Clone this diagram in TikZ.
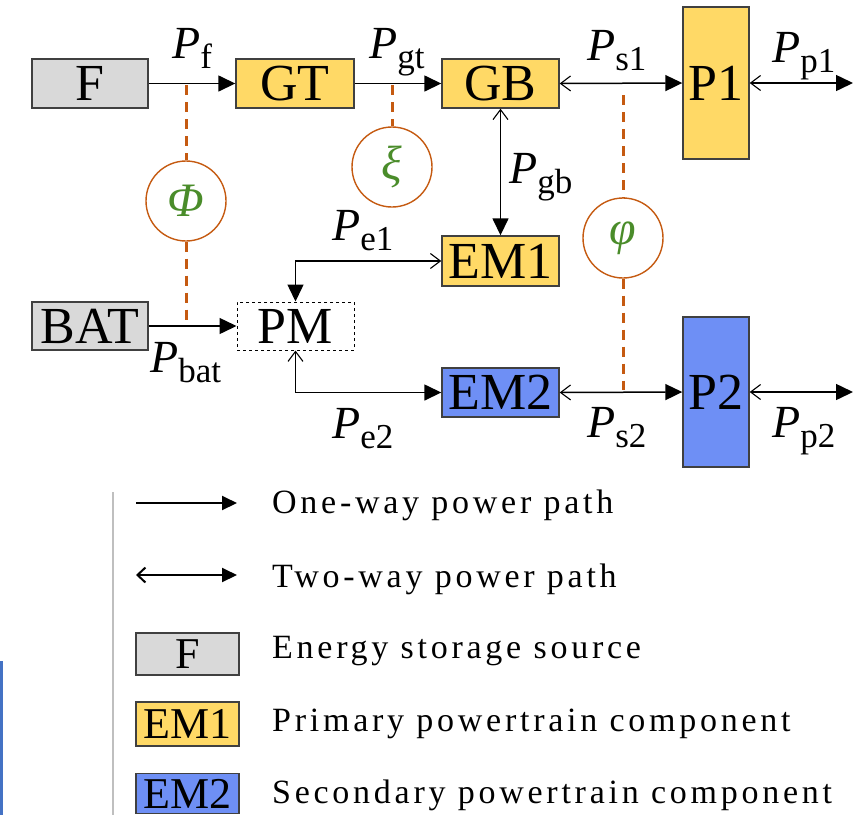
\documentclass[tikz,border=0pt]{standalone}
\usepackage{fontspec}
\setmainfont{Liberation Serif}
\usetikzlibrary{arrows.meta}
\definecolor{cgray}{HTML}{D9D9D9}
\definecolor{cyel}{HTML}{FFD966}
\definecolor{cblue}{HTML}{6E8FF5}
\definecolor{corange}{HTML}{C55A11}
\definecolor{cgreen}{HTML}{4A8C2A}
\definecolor{cedge}{HTML}{404040}
\definecolor{cside}{HTML}{4472C4}
\newcommand\PL[1]{{\fontsize{46}{46}\selectfont\itshape P}\raisebox{-10pt}{\fontsize{35}{35}\selectfont #1}}
\newcommand\LegTxt[1]{{\fontsize{34}{34}\selectfont\addfontfeature{LetterSpace=11}#1}}
\tikzset{
  comp/.style={draw=cedge, line width=1.4pt, inner sep=0pt, font=\fontsize{52}{52}\selectfont},
  onearrow/.style={line width=1.5pt, -{Triangle[length=17pt,width=16pt]}},
  twoarrow/.style={line width=1.5pt, {Straight Barb[length=10pt,width=15pt,line width=1.1pt]}-{Triangle[length=17pt,width=16pt]}},
  dashln/.style={corange, line width=3pt, dash pattern=on 10pt off 7pt},
  ctrl/.style={circle, draw=corange, line width=1.4pt, minimum size=80pt, inner sep=0pt, text=cgreen, font=\fontsize{48}{48}\selectfont\itshape},
  plab/.style={anchor=base west, inner sep=0pt},
  legtext/.style={anchor=base west, inner sep=0pt}
}
\begin{document}
\begin{tikzpicture}[x=1pt,y=-1pt]
\useasboundingbox (0,0) rectangle (854,815);
% components
\node[comp, fill=cgray, minimum width=116pt, minimum height=49pt] (F) at (90,83.5) {F};
\node[comp, fill=cyel, minimum width=118pt, minimum height=49pt] (GT) at (295,83.5) {GT};
\node[comp, fill=cyel, minimum width=117pt, minimum height=49pt] (GB) at (500.5,83.5) {GB};
\node[comp, fill=cyel, minimum width=66pt, minimum height=152pt] (P1) at (716,83) {P1};
\node[comp, fill=cyel, minimum width=117pt, minimum height=50pt] (EM1) at (500.5,261) {EM1};
\node[comp, fill=cgray, minimum width=116pt, minimum height=48pt] (BAT) at (90,326) {BAT};
\node[comp, draw=black, line width=1pt, dashed, minimum width=117pt, minimum height=48pt] (PM) at (295.5,326) {PM};
\node[comp, fill=cblue, minimum width=117pt, minimum height=49pt] (EM2) at (500.5,392.5) {EM2};
\node[comp, fill=cblue, minimum width=66pt, minimum height=150pt] (P2) at (716,392) {P2};
% free ends
\coordinate (R1) at (853,83);
\coordinate (R2) at (853,392);
% connectors
\draw[onearrow] (F.east) -- (GT.west);
\draw[onearrow] (GT.east) -- (GB.west);
\draw[twoarrow] (GB.east) -- (P1.west);
\draw[twoarrow] (P1.east) -- (R1);
\draw[twoarrow] (GB.south) -- (EM1.north);
\draw[twoarrow] (EM1.west) -| (PM.north);
\draw[twoarrow] (PM.south) |- (EM2.west);
\draw[onearrow] (BAT.east) -- (PM.west);
\draw[twoarrow] (EM2.east) -- (P2.west);
\draw[twoarrow] (P2.east) -- (R2);
% control variables
\node[ctrl] (Phi) at (186,201) {Φ};
\node[ctrl] (Xi) at (392,167) {ξ};
\node[ctrl] (ph) at (623,238) {φ};
\coordinate (phiA) at (186,85);
\coordinate (phiB) at (186,326);
\coordinate (xiA) at (392,85);
\coordinate (phA) at (623,95);
\coordinate (phB) at (623,390);
\draw[dashln] (phiA) -- (Phi.north);
\draw[dashln] (Phi.south) -- (phiB);
\draw[dashln] (xiA) -- (Xi.north);
\draw[dashln] (phA) -- (ph.north);
\draw[dashln] (ph.south) -- (phB);
% labels
\node[plab] (lf) at (172,58) {\PL{f}};
\node[plab] (lgt) at (369,58) {\PL{gt}};
\node[plab] (ls1) at (587,60) {\PL{s1}};
\node[plab] (lp1) at (772,62) {\PL{p1}};
\node[plab] (lgb) at (509,183) {\PL{gb}};
\node[plab] (le1) at (332,240) {\PL{e1}};
\node[plab] (lbat) at (150,372) {\PL{bat}};
\node[plab] (le2) at (332,438) {\PL{e2}};
\node[plab] (ls2) at (587,437) {\PL{s2}};
\node[plab] (lp2) at (772,437) {\PL{p2}};
% legend
\coordinate (gA) at (113,492);
\coordinate (gB) at (113,815);
\draw[line width=1.5pt, color=black!25] (gA) -- (gB);
\coordinate (bA) at (1.5,661);
\coordinate (bB) at (1.5,815);
\draw[line width=3pt, color=cside] (bA) -- (bB);
\coordinate (o1) at (136,503);
\coordinate (o2) at (237,503);
\draw[line width=2pt, -{Triangle[length=15pt,width=14pt]}] (o1) -- (o2);
\coordinate (t1) at (136,575);
\coordinate (t2) at (237,575);
\draw[line width=2pt, {Straight Barb[length=8pt,width=15pt,line width=2pt]}-{Triangle[length=15pt,width=14pt]}] (t1) -- (t2);
\node[comp, fill=cgray, minimum width=103pt, minimum height=42pt, font=\fontsize{44}{44}\selectfont] (LF) at (187.5,654) {F};
\node[comp, fill=cyel, minimum width=103pt, minimum height=44pt, font=\fontsize{44}{44}\selectfont] (LEM1) at (187.5,724) {EM1};
\node[comp, fill=cblue, minimum width=103pt, minimum height=40pt, font=\fontsize{44}{44}\selectfont] (LEM2) at (187.5,793.5) {EM2};
\node[legtext] (t_one) at (272,513) {\LegTxt{One-way power path}};
\node[legtext] (t_two) at (272,587) {\LegTxt{Two-way power path}};
\node[legtext] (t_es) at (272,658) {\LegTxt{Energy storage source}};
\node[legtext] (t_pr) at (272,731) {\LegTxt{Primary powertrain component}};
\node[legtext] (t_se) at (272,803) {\LegTxt{Secondary powertrain component}};
\end{tikzpicture}
\end{document}
